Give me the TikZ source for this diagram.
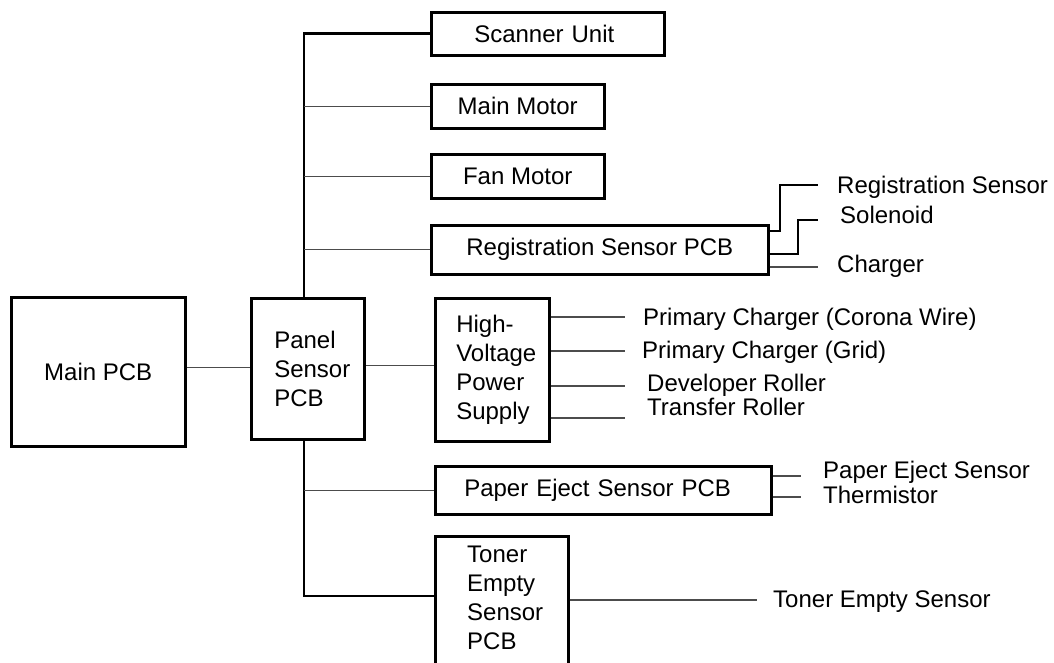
\documentclass[tikz,border=0pt]{standalone}
\usepackage{fontspec}
\setmainfont{Liberation Sans}
\begin{document}
\begin{tikzpicture}[x=1pt,y=-1pt,
  txt/.style={font=\fontsize{24}{29}\selectfont},
  box/.style={txt,draw,line width=2.5pt,rectangle,anchor=north west,inner sep=0pt},
  lbl/.style={txt,anchor=base west,inner sep=0pt},
  bus/.style={line width=2.6pt,black},
  wire/.style={line width=1.3pt,black!70}]
\useasboundingbox (0,0) rectangle (1054,662);
\fill[white] (0,0) rectangle (1054,662);

% boxes
\node[box,minimum width=233,minimum height=43,text width=147,inner xsep=43,align=left] (scanner) at (430,11) {Scanner Unit};
\node[box,minimum width=173,minimum height=44] (mainmotor) at (430,83) {Main Motor};
\node[box,minimum width=173,minimum height=44] (fanmotor) at (430,153) {Fan Motor};
\node[box,minimum width=337,minimum height=49] (regpcb) at (430,224) {Registration Sensor PCB};
\node[box,minimum width=174,minimum height=149] (mainpcb) at (10,296) {Main PCB};
\node[box,minimum width=113,minimum height=141,text width=67,inner xsep=23,align=left] (panel) at (250,297) {Panel\\Sensor\\PCB};
\node[box,minimum width=114,minimum height=143,text width=72,inner xsep=21,align=left] (hv) at (434,297) {High-\\Voltage\\Power\\Supply};
\node[box,minimum width=336,minimum height=48,text width=278,inner xsep=29,align=left] (paper) at (434,465) {Paper Eject Sensor PCB};
\node[box,minimum width=133,minimum height=150] (toner) at (434,535) {};
\node[txt,anchor=north west,align=left,inner sep=0pt] (tonertext) at (467,546) {Toner\\Empty\\Sensor\\PCB};

% bus lines
\coordinate (busx) at (304,0);
\draw[bus] (scanner.west) -| (busx |- panel.north);
\draw[wire] (mainmotor.west) -- (mainmotor.west -| busx);
\draw[wire] (fanmotor.west) -- (fanmotor.west -| busx);
\draw[wire] (regpcb.west) -- (regpcb.west -| busx);
\coordinate (tj) at (434,596);
\draw[bus] (busx |- panel.south) |- (tj);
\draw[wire] (paper.west) -- (paper.west -| busx);

% main links
\draw[wire] ([yshift=4pt]mainpcb.east) -- ([yshift=4pt]mainpcb.east -| panel.west);
\draw[wire] ([yshift=4pt]hv.west) -- ([yshift=4pt]hv.west -| panel.east);

% registration sensor PCB outputs
\coordinate (rsA) at (780,231);
\coordinate (rsB) at (818,185);
\coordinate (soA) at (798,254);
\coordinate (soB) at (818,220);
\coordinate (ch) at (818,267);
\draw[bus] (regpcb.east |- rsA) -- (rsA) |- (rsB);
\draw[bus] (regpcb.east |- soA) -- (soA) |- (soB);
\draw[wire] (regpcb.east |- ch) -- (ch);
\node[lbl] (lrs) at (837,193) {Registration Sensor};
\node[lbl] (lso) at (840,223) {Solenoid};
\node[lbl] (lch) at (837,272) {Charger};

% high voltage outputs
\coordinate (h1) at (625,317);
\coordinate (h2) at (625,351);
\coordinate (h3) at (625,386);
\coordinate (h4) at (625,418);
\draw[wire] (hv.east |- h1) -- (h1);
\draw[wire] (hv.east |- h2) -- (h2);
\draw[wire] (hv.east |- h3) -- (h3);
\draw[wire] (hv.east |- h4) -- (h4);
\node[lbl] (lh1) at (643,325) {Primary Charger (Corona Wire)};
\node[lbl] (lh2) at (642,358) {Primary Charger (Grid)};
\node[lbl] (lh3) at (647,391) {Developer Roller};
\node[lbl] (lh4) at (647,415) {Transfer Roller};

% paper eject outputs
\coordinate (p1) at (801,476);
\coordinate (p2) at (801,497);
\draw[wire] (paper.east |- p1) -- (p1);
\draw[wire] (paper.east |- p2) -- (p2);
\node[lbl] (lp1) at (823,478) {Paper Eject Sensor};
\node[lbl] (lp2) at (823,503) {Thermistor};

% toner output
\coordinate (te) at (757,600);
\draw[wire] (te -| toner.east) -- (te);
\node[lbl] (lte) at (773,607) {Toner Empty Sensor};
\end{tikzpicture}
\end{document}
